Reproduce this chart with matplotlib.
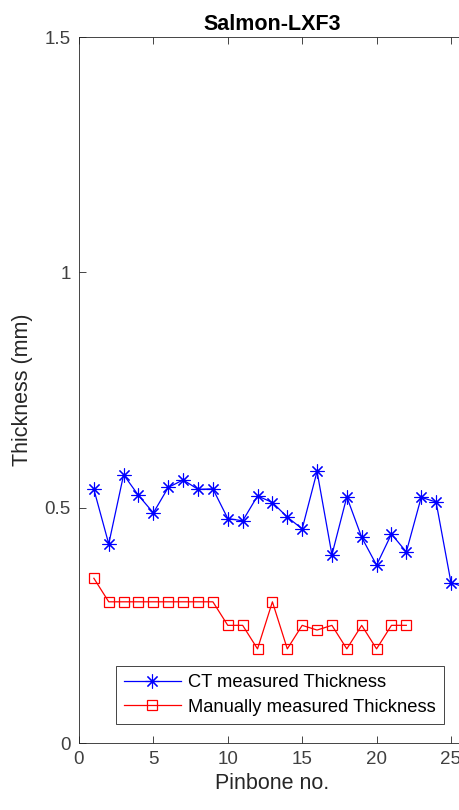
import matplotlib
matplotlib.use("Agg")
import matplotlib.pyplot as plt

plt.rcParams['font.family'] = ['Liberation Sans', 'DejaVu Sans']

# data
ct_x = list(range(1, 27))
ct_y = [0.539, 0.423, 0.570, 0.526, 0.489, 0.543, 0.559, 0.539, 0.540, 0.477,
        0.472, 0.525, 0.511, 0.480, 0.455, 0.577, 0.400, 0.523, 0.437, 0.378,
        0.444, 0.406, 0.522, 0.512, 0.341, 0.33]

man_x = list(range(1, 23))
man_y = [0.35, 0.30, 0.30, 0.30, 0.30, 0.30, 0.30, 0.30, 0.30, 0.25,
         0.25, 0.20, 0.30, 0.20, 0.25, 0.24, 0.25, 0.20, 0.25, 0.20,
         0.25, 0.25]

xticks = [0, 5, 10, 15, 20, 25]
yticks = [0, 0.5, 1, 1.5]
ytick_labels = ['0', '0.5', '1', '1.5']

grey = '#262626'

fig = plt.figure(figsize=(4.6, 8.1), dpi=100)
ax = fig.add_axes([0.1717, 0.0827, 0.841, 0.8716])

# MATLAB style asterisk: 8 spokes
ax.plot(ct_x, ct_y, '-', color='b', lw=0.9, marker=(8, 2, 0), ms=10, mew=0.8,
        label='CT measured Thickness')
ax.plot(man_x, man_y, '-', color='r', lw=0.9, marker='s', ms=7.5, mew=0.9,
        mfc='none', label='Manually measured Thickness')

ax.set_xlim(0, 26)
ax.set_ylim(0, 1.5)
ax.set_xticks(xticks)
ax.set_yticks(yticks)
ax.set_yticklabels(ytick_labels)
ax.tick_params(direction='in', length=5, width=0.6, colors=grey,
               labelsize=13.5, top=True, right=True, pad=6)
for tl in ax.get_xticklabels() + ax.get_yticklabels():
    tl.set_color('#404040')
for s in ax.spines.values():
    s.set_color(grey)
    s.set_linewidth(0.6)

ax.set_title('Salmon-LXF3', fontsize=15.5, fontweight='bold', color='black', pad=5)
ax.set_xlabel('Pinbone no.', fontsize=15.5, color=grey, labelpad=3)
ax.set_ylabel('Thickness (mm)', fontsize=15.5, color=grey, labelpad=8)

leg = ax.legend(loc='lower left', bbox_to_anchor=(0.095, 0.027), borderaxespad=0,
                fontsize=13.2, fancybox=False, framealpha=1, edgecolor=grey,
                handlelength=3.1, borderpad=0.45, labelspacing=0.4,
                handletextpad=0.4)
leg.get_frame().set_linewidth(0.6)

fig.savefig('out.png', dpi=100)
